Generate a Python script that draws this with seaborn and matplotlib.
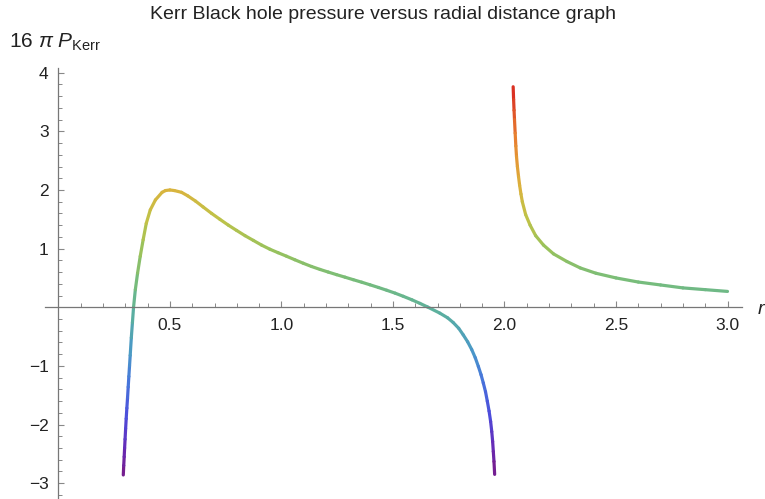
import numpy as np
import matplotlib as mpl
mpl.use('agg')
import matplotlib.pyplot as plt
import seaborn as sns
from matplotlib.collections import LineCollection
from matplotlib.colors import LinearSegmentedColormap
from matplotlib.ticker import MultipleLocator, FixedLocator

sns.set_theme(style='ticks')
plt.rcParams['font.family'] = ['Liberation Sans', 'DejaVu Sans']
plt.rcParams['mathtext.fontset'] = 'custom'
plt.rcParams['mathtext.rm'] = 'Liberation Sans'
plt.rcParams['mathtext.it'] = 'Liberation Sans:italic'

# values
r_inner = [0.291, 0.293, 0.295, 0.297, 0.299, 0.3015, 0.304, 0.307, 0.310,
           0.313, 0.316, 0.319, 0.322, 0.327, 0.332, 0.337, 0.345, 0.355,
           0.367, 0.380, 0.394, 0.412, 0.435, 0.465, 0.480, 0.500, 0.520,
           0.552, 0.580, 0.615, 0.649, 0.687, 0.724, 0.762, 0.799, 0.837,
           0.874, 0.911, 0.948, 0.985, 1.023, 1.060, 1.098, 1.135, 1.173,
           1.210, 1.247, 1.285, 1.322, 1.360, 1.397, 1.435, 1.472, 1.510,
           1.546, 1.585, 1.621, 1.655, 1.710, 1.745, 1.770, 1.795, 1.815,
           1.835, 1.853, 1.869, 1.883, 1.895, 1.905, 1.915, 1.923, 1.931,
           1.938, 1.943, 1.947, 1.950, 1.953, 1.956]
p_inner = [-2.86, -2.70, -2.55, -2.40, -2.25, -2.07, -1.90, -1.72, -1.55,
           -1.36, -1.18, -1.00, -0.82, -0.52, -0.26, 0.00, 0.30, 0.58,
           0.87, 1.15, 1.43, 1.66, 1.83, 1.96, 1.99, 2.00, 1.99,
           1.96, 1.90, 1.81, 1.71, 1.60, 1.50, 1.40, 1.31, 1.22,
           1.14, 1.06, 0.99, 0.93, 0.87, 0.81, 0.75, 0.695, 0.645,
           0.60, 0.556, 0.513, 0.47, 0.427, 0.383, 0.337, 0.29, 0.24,
           0.187, 0.127, 0.066, 0.005, -0.10, -0.18, -0.26, -0.36, -0.47,
           -0.59, -0.72, -0.86, -1.01, -1.15, -1.29, -1.44, -1.60, -1.77,
           -1.95, -2.12, -2.29, -2.46, -2.63, -2.85]

r_outer = [2.039, 2.041, 2.043, 2.045, 2.048, 2.051, 2.054, 2.058, 2.063,
           2.068, 2.074, 2.080, 2.095, 2.115, 2.140, 2.175, 2.220, 2.280,
           2.340, 2.410, 2.500, 2.600, 2.700, 2.800, 2.900, 3.000]
p_outer = [3.76, 3.54, 3.36, 3.20, 2.97, 2.75, 2.57, 2.40, 2.23,
           2.08, 1.93, 1.80, 1.58, 1.40, 1.22, 1.06, 0.91, 0.78,
           0.67, 0.58, 0.50, 0.43, 0.38, 0.33, 0.30, 0.27]

x_ticks = [0.5, 1.0, 1.5, 2.0, 2.5, 3.0]
y_ticks = [-3, -2, -1, 1, 2, 3, 4]

# rainbow-ish gradient (purple -> blue -> teal -> green -> yellow -> red)
rainbow = LinearSegmentedColormap.from_list('rainbow_m', [
    (0.00, (0.47, 0.11, 0.53)),
    (0.07, (0.40, 0.17, 0.72)),
    (0.15, (0.30, 0.30, 0.86)),
    (0.24, (0.28, 0.46, 0.86)),
    (0.32, (0.29, 0.60, 0.78)),
    (0.42, (0.36, 0.69, 0.62)),
    (0.50, (0.47, 0.74, 0.48)),
    (0.58, (0.60, 0.76, 0.36)),
    (0.66, (0.75, 0.76, 0.28)),
    (0.74, (0.86, 0.70, 0.24)),
    (0.86, (0.91, 0.52, 0.19)),
    (1.00, (0.85, 0.15, 0.13)),
])
pmin = min(p_inner + p_outer)
pmax = max(p_inner + p_outer)
norm = plt.Normalize(pmin, pmax)

fig = plt.figure(figsize=(7.65, 4.99), dpi=100)
ax = fig.add_axes([45 / 765, 0.0, 697 / 765, 431 / 499])

for rr, pp in [(r_inner, p_inner), (r_outer, p_outer)]:
    pts = np.column_stack([rr, pp]).reshape(-1, 1, 2)
    segs = np.concatenate([pts[:-1], pts[1:]], axis=1)
    mids = 0.5 * (np.array(pp[:-1]) + np.array(pp[1:]))
    lc = LineCollection(segs, cmap=rainbow, norm=norm, linewidth=2.3,
                        capstyle='round', joinstyle='round')
    lc.set_array(mids)
    ax.add_collection(lc)

ax.set_xlim(-0.06, 3.065)
ax.set_ylim(-3.27, 4.08)

# mathematica-like axes through the origin
for s in ['top', 'right']:
    ax.spines[s].set_visible(False)
ax.spines['left'].set_position(('data', 0))
ax.spines['bottom'].set_position(('data', 0))
for s in ['left', 'bottom']:
    ax.spines[s].set_color('#777777')
    ax.spines[s].set_linewidth(0.9)

ax.xaxis.set_major_locator(FixedLocator(x_ticks))
ax.xaxis.set_minor_locator(MultipleLocator(0.1))
ax.yaxis.set_major_locator(FixedLocator(y_ticks))
ax.yaxis.set_minor_locator(MultipleLocator(0.2))
ax.set_xticklabels(['%.1f' % v for v in x_ticks])
ax.set_yticklabels(['\u2212%d' % -v if v < 0 else '%d' % v for v in y_ticks])
ax.tick_params(axis='both', which='both', direction='in', color='#888888',
               labelsize=12.5, labelcolor='#222222')
ax.tick_params(axis='both', which='major', length=4.5, width=0.8)
ax.tick_params(axis='both', which='minor', length=2.6, width=0.7)
ax.tick_params(axis='x', which='major', pad=8)
ax.tick_params(axis='y', which='major', pad=7)

fig.text(0.5, 0.97, 'Kerr Black hole pressure versus radial distance graph',
         ha='center', va='center', fontsize=14, color='#222222')
fig.text(9 / 765, 1 - 42 / 499, r'16 $\pi$ $P_{\mathrm{Kerr}}$',
         ha='left', va='center', fontsize=15, color='#222222')
fig.text(757 / 765, 1 - 310 / 499, r'$r$', ha='left', va='center',
         fontsize=14, color='#222222')

fig.savefig('out.png', dpi=100, facecolor='white')
